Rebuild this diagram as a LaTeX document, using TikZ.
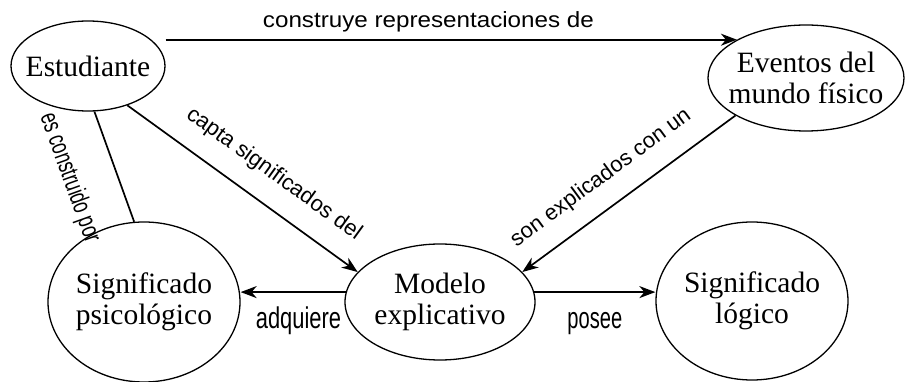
\documentclass[tikz,border=0pt]{standalone}
\usepackage{fontspec}
\setmainfont{Liberation Serif}
\setsansfont{Liberation Sans}
\usetikzlibrary{arrows.meta,shapes.geometric}

\tikzset{
  concept/.style={draw,ellipse,line width=1.3pt,inner xsep=-30pt,inner ysep=-10pt,align=center,font=\fontsize{29.5}{31}\selectfont},
  link/.style={line width=1.7pt,-{Stealth[length=16pt,width=12pt,inset=5pt]}},
  lbl/.style={font=\sffamily\fontsize{22}{24}\selectfont,inner sep=0pt},
  narrow/.style={font=\sffamily\fontsize{30}{32}\selectfont,inner sep=0pt}
}

\begin{document}
\begin{tikzpicture}[x=1pt,y=-1pt]
\useasboundingbox (0,0) rectangle (906,382);
\node[concept,minimum width=154pt,minimum height=90pt] (estudiante) at (88,66) {Estudiante};
\node[concept,minimum width=196pt,minimum height=106pt] (eventos) at (806,78) {Eventos del\\mundo físico};
\node[concept,minimum width=192pt,minimum height=160pt] (psico) at (144,302) {Significado\\psicológico};
\node[concept,minimum width=190pt,minimum height=116pt] (modelo) at (440,302) {Modelo\\explicativo};
\node[concept,minimum width=192pt,minimum height=158pt] (logico) at (752,301) {Significado\\lógico};

\draw[link] (estudiante.east |- eventos.151) -- node[lbl,pos=0.46,above=7pt]{\scalebox{1.1}[1]{construye representaciones de}} (eventos.151);
\draw[link] (estudiante.-45) -- node[lbl,sloped,pos=0.56,above=19pt]{capta significados del} (modelo.160);
\draw[link] (eventos.208) -- node[lbl,sloped,pos=0.55,above=18pt]{son explicados con un} (modelo.20);
\draw[line width=1.7pt] (estudiante.-82) -- node[lbl,sloped,pos=0.46,below=33pt]{\fontsize{26}{28}\selectfont\scalebox{0.68}[1]{es construido por}} (psico.97);
\draw[link] (modelo.174) -- node[narrow,pos=0.45,below=14pt]{\scalebox{0.73}[1]{adquiere}} (modelo.174 -| psico.east);
\draw[link] (modelo.6) -- node[narrow,pos=0.5,below=19pt]{\scalebox{0.67}[1]{posee}} (modelo.6 -| logico.west);
\end{tikzpicture}
\end{document}
